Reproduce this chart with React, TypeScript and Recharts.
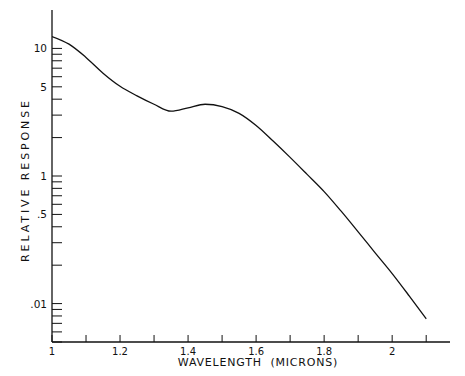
import { LineChart, Line, XAxis, YAxis, Label } from 'recharts';

// wavelength (microns)
const wavelength = [1.0, 1.05, 1.1, 1.15, 1.2, 1.25, 1.3, 1.35, 1.4, 1.45, 1.5, 1.55, 1.6, 1.65, 1.7, 1.75, 1.8, 1.85, 1.9, 1.95, 2.0, 2.05, 2.1];
// relative response
const response = [12.4, 10.8, 8.5, 6.4, 5.05, 4.25, 3.65, 3.22, 3.42, 3.65, 3.5, 3.1, 2.49, 1.88, 1.4, 1.03, 0.755, 0.53, 0.365, 0.25, 0.172, 0.115, 0.076];

const xTicks = [1.0, 1.1, 1.2, 1.3, 1.4, 1.5, 1.6, 1.7, 1.8, 1.9, 2.0, 2.1];
const xLabels: Record<string, string> = { '1': '1', '1.2': '1.2', '1.4': '1.4', '1.6': '1.6', '1.8': '1.8', '2': '2' };

const yTicks = [0.05, 0.06, 0.07, 0.08, 0.09, 0.1, 0.2, 0.3, 0.4, 0.5, 0.6, 0.7, 0.8, 0.9, 1, 2, 3, 4, 5, 6, 7, 8, 9, 10];
const yLabels: Record<string, string> = { '10': '10', '5': '5', '1': '1', '0.5': '.5', '0.1': '.01' };

const data = wavelength.map((w, i) => ({ w, r: response[i] }));

const FONT = '"DejaVu Sans", sans-serif';

const YTick = (props: any) => {
  const { x, y, payload } = props;
  const label = yLabels[String(payload.value)];
  return (
    <g>
      <line x1={x} y1={y} x2={x + 10} y2={y} stroke="#111" strokeWidth={1} />
      {label && (
        <text x={x - 5} y={y + 4} textAnchor="end" fontSize={10.5} fontFamily={FONT} fill="#111">
          {label}
        </text>
      )}
    </g>
  );
};

const XTick = (props: any) => {
  const { x, y, payload } = props;
  const key = String(Math.round(payload.value * 10) / 10);
  const label = xLabels[key];
  return (
    <g>
      <line x1={x} y1={y} x2={x} y2={y - 7} stroke="#111" strokeWidth={1} />
      {label && (
        <text x={x} y={y + 12.5} textAnchor="middle" fontSize={10} fontFamily={FONT} fill="#111">
          {label}
        </text>
      )}
    </g>
  );
};

export default function App() {
  return (
    <div style={{ position: 'absolute', left: 0, top: 0, background: '#fff' }}>
      <LineChart width={465} height={376} data={data} margin={{ top: 10, right: 15, bottom: 4, left: 12 }}>
        <XAxis
          dataKey="w"
          type="number"
          domain={[1, 2.17]}
          ticks={xTicks}
          interval={0}
          height={30}
          tickSize={0}
          tickMargin={0}
          tick={<XTick />}
          tickLine={false}
          axisLine={{ stroke: '#111', strokeWidth: 1.3 }}
          allowDataOverflow
        >
          <Label
            content={(p: any) => {
              const vb = p.viewBox;
              return (
                <text x={vb.x + vb.width / 2 + 7} y={vb.y + 24} textAnchor="middle" fontSize={11} fontFamily={FONT} fill="#111" letterSpacing={0.8}>
                  WAVELENGTH{'\u00a0\u00a0'}(MICRONS)
                </text>
              );
            }}
          />
        </XAxis>
        <YAxis
          type="number"
          scale="log"
          domain={[0.05, 20]}
          ticks={yTicks}
          interval={0}
          width={40}
          tickSize={0}
          tickMargin={0}
          tick={<YTick />}
          tickLine={false}
          axisLine={{ stroke: '#111', strokeWidth: 1.3 }}
          allowDataOverflow
        >
          <Label
            content={(p: any) => {
              const vb = p.viewBox;
              const cx = vb.x + vb.width - 23;
              const cy = vb.y + vb.height / 2 + 4;
              return (
                <text x={cx} y={cy} transform={`rotate(-90 ${cx} ${cy})`} textAnchor="middle" fontSize={11} fontFamily={FONT} fill="#111" letterSpacing={2.9}>
                  RELATIVE{'\u00a0'}RESPONSE
                </text>
              );
            }}
          />
        </YAxis>
        <Line type="monotone" dataKey="r" stroke="#111" strokeWidth={1.3} dot={false} isAnimationActive={false} />
      </LineChart>
    </div>
  );
}
